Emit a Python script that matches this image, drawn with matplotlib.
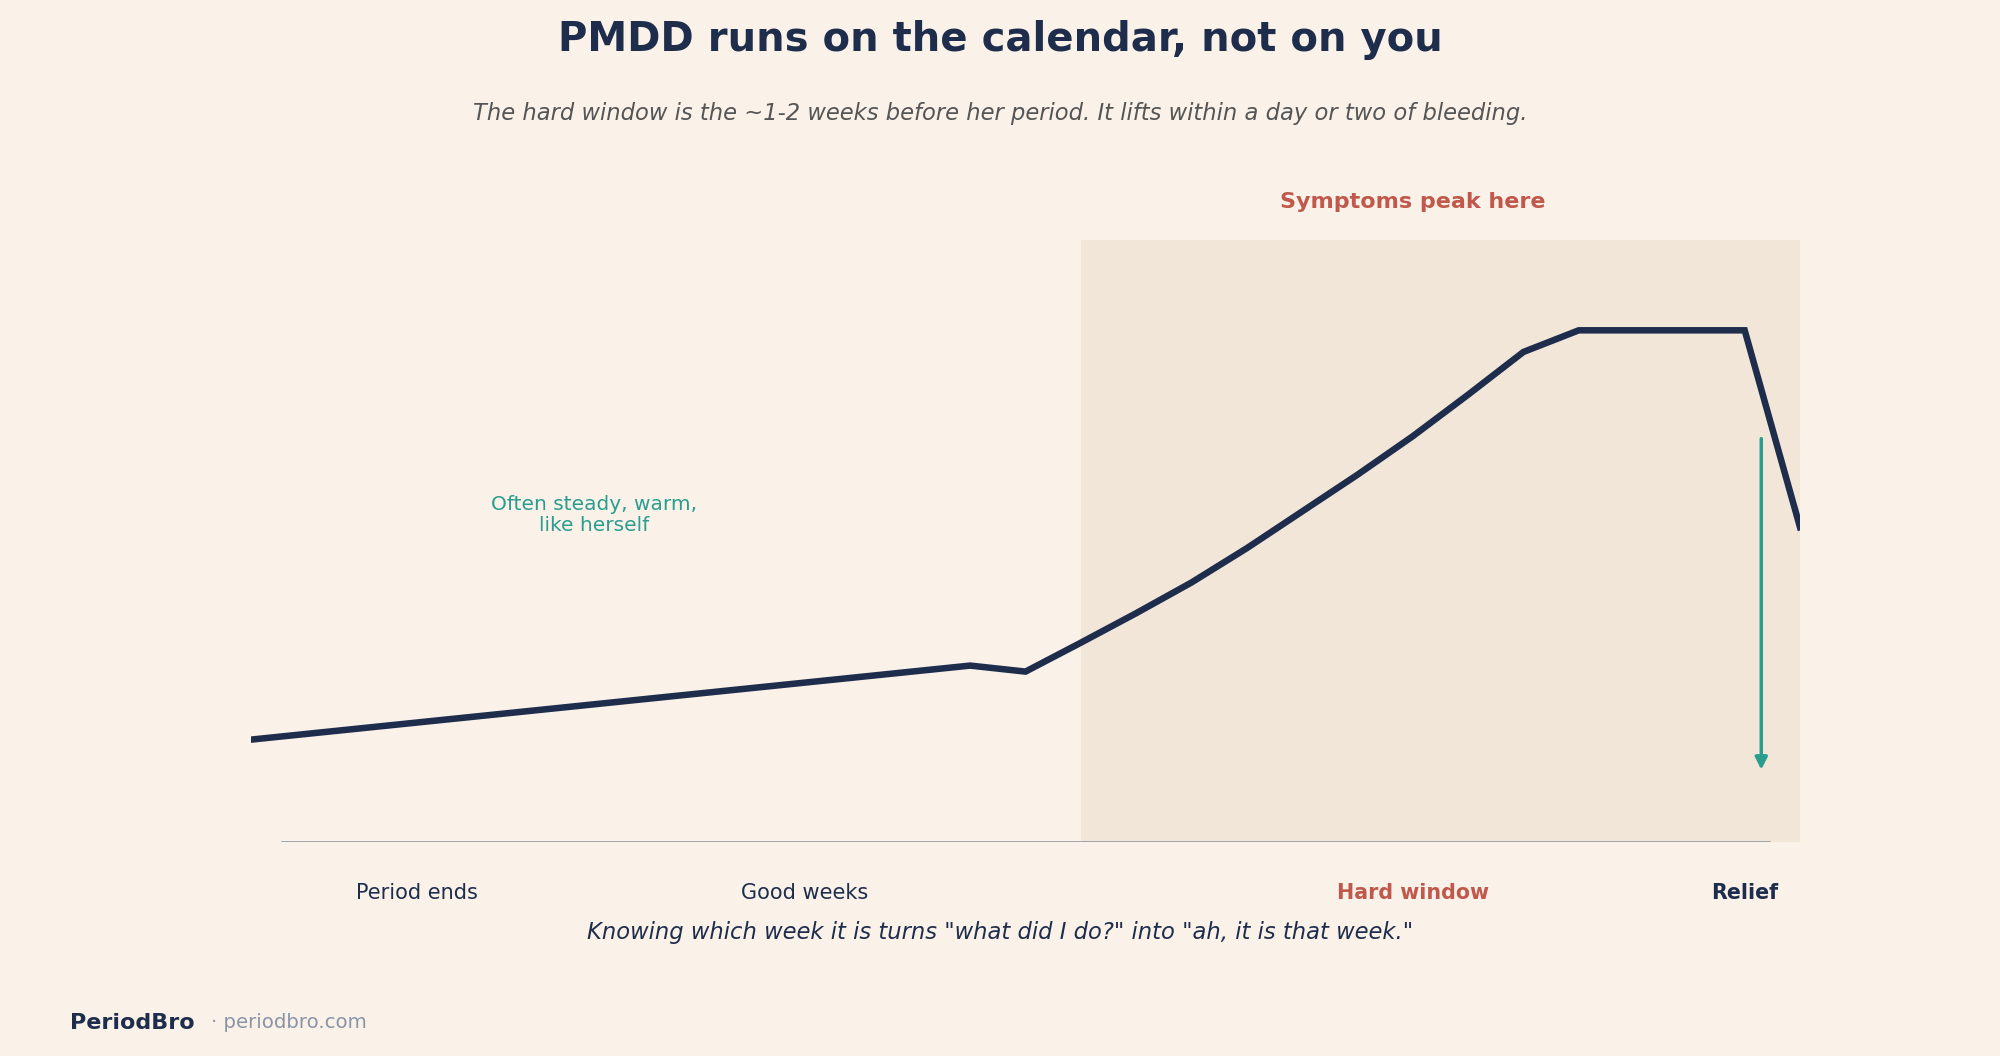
import matplotlib
matplotlib.use('Agg')
import matplotlib.pyplot as plt
import matplotlib.transforms as mtransforms

# cycle day vs symptom load (0-10)
days     = [0, 13, 14, 15, 16, 17, 18, 19, 20, 21, 22, 23, 24, 27, 28]
symptoms = [1.70, 2.93, 2.83, 3.31, 3.80, 4.31, 4.88, 5.49, 6.10, 6.74, 7.43, 8.14, 8.50, 8.50, 5.23]

hard_window = [15, 28]
relief_arrow_day = 27.3
relief_arrow_from = 6.70
relief_arrow_to = 1.20

phase_labels = ['Period ends', 'Good weeks', 'Hard window', 'Relief']
phase_days   = [3, 10, 21, 27]

bg     = '#faf2e9'
shade  = '#f2e6d9'
navy   = '#1f2d4d'
terra  = '#c0594b'
teal   = '#2a9d8f'
grey   = '#8a94a6'

fig = plt.figure(figsize=(20, 10.56), dpi=100, facecolor=bg)
ax = fig.add_axes([0.1255, 0.2027, 0.7745, 0.57])
ax.set_facecolor(bg)

ax.axvspan(hard_window[0], hard_window[1], color=shade, lw=0, zorder=0)
ax.axhline(0, xmin=0.02, xmax=0.98, color='#858e9b', lw=1.8, zorder=1)
ax.plot(days, symptoms, color=navy, lw=4.7, solid_joinstyle='miter', zorder=3)

ax.annotate('', xy=(relief_arrow_day, relief_arrow_to), xytext=(relief_arrow_day, relief_arrow_from),
            arrowprops=dict(arrowstyle='-|>', color=teal, lw=2.5, mutation_scale=18,
                            shrinkA=0, shrinkB=0), zorder=4)

ax.text(6.2, 5.43, 'Often steady, warm,\nlike herself', color=teal, fontsize=14.5,
        ha='center', va='center', linespacing=1.15)

ax.set_xlim(0, 28)
ax.set_ylim(0, 10)
ax.axis('off')

trans = mtransforms.blended_transform_factory(ax.transData, fig.transFigure)
for lab, d in zip(phase_labels, phase_days):
    if lab == 'Hard window':
        ax.text(d, 0.1544, lab, transform=trans, ha='center', va='center', fontsize=14.9,
                color=terra, fontweight='bold')
    elif lab == 'Relief':
        ax.text(d, 0.1544, lab, transform=trans, ha='center', va='center', fontsize=14.9,
                color=navy, fontweight='bold')
    else:
        ax.text(d, 0.1544, lab, transform=trans, ha='center', va='center', fontsize=15,
                color=navy)

ax.text(21, 0.809, 'Symptoms peak here', transform=trans, ha='center', va='center',
        fontsize=16, color=terra, fontweight='bold')

fig.text(0.5, 0.962, 'PMDD runs on the calendar, not on you', ha='center', va='center',
         fontsize=28.9, fontweight='bold', color=navy)
fig.text(0.5, 0.8925, 'The hard window is the ~1-2 weeks before her period. It lifts within a day or two of bleeding.',
         ha='center', va='center', fontsize=16.25, style='italic', color='#555555')
fig.text(0.5, 0.117, 'Knowing which week it is turns "what did I do?" into "ah, it is that week."',
         ha='center', va='center', fontsize=16.25, style='italic', color=navy)

fig.text(0.035, 0.0313, 'PeriodBro', ha='left', va='center', fontsize=16, fontweight='bold', color=navy)
fig.text(0.1055, 0.0313, '· periodbro.com', ha='left', va='center', fontsize=14.2, color=grey)

fig.savefig('out.png', dpi=100, facecolor=bg)
